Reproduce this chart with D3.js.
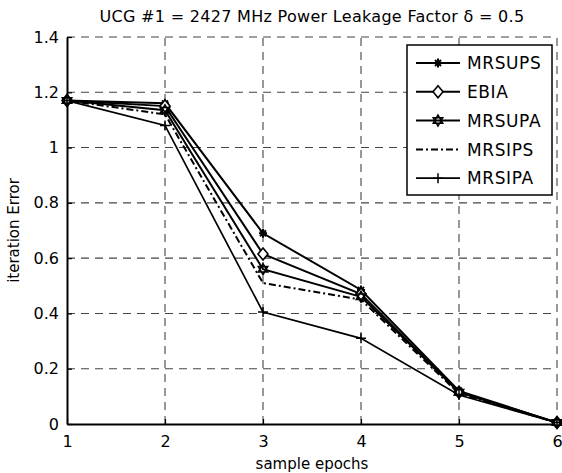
<!DOCTYPE html>
<html>
<head>
<meta charset="utf-8">
<script src="https://cdn.jsdelivr.net/npm/d3@7"></script>
<style>
  body { margin: 0; background: #fff; }
  text { font-family: "Comic Sans MS", "DejaVu Sans", sans-serif; fill: #000; }
</style>
</head>
<body>
<svg id="chart"></svg>
<script>
/* data */
const epochs = [1, 2, 3, 4, 5, 6]
const mrsups = [1.17, 1.16, 0.69, 0.485, 0.12, 0.005]
const ebia   = [1.17, 1.15, 0.615, 0.47, 0.115, 0.005]
const mrsupa = [1.17, 1.135, 0.56, 0.46, 0.115, 0.005]
const mrsips = [1.17, 1.12, 0.51, 0.45, 0.11, 0.005]
const mrsipa = [1.17, 1.08, 0.405, 0.31, 0.105, 0.005]

const seriesNames = ['MRSUPS', 'EBIA', 'MRSUPA', 'MRSIPS', 'MRSIPA']
const seriesValues = [mrsups, ebia, mrsupa, mrsips, mrsipa]
const markers = ['asterisk', 'diamond', 'hexagram', 'none', 'plus']
const dashes = [null, null, null, '7,3,2,3', null]

const xTicks = [1, 2, 3, 4, 5, 6]
const yTicks = [0, 0.2, 0.4, 0.6, 0.8, 1, 1.2, 1.4]
const yTickLabels = ['0', '0.2', '0.4', '0.6', '0.8', '1', '1.2', '1.4']

const titleText = 'UCG #1 = 2427 MHz Power Leakage Factor \u03b4 = 0.5'

const width = 562, height = 473
const margin = {top: 37, right: 5, bottom: 49, left: 67}

const svg = d3.select('#chart').attr('width', width).attr('height', height)

const x = d3.scaleLinear().domain([1, 6]).range([margin.left, width - margin.right])
const y = d3.scaleLinear().domain([0, 1.4]).range([height - margin.bottom, margin.top])

/* grid dashed */
const grid = svg.append('g').attr('stroke', '#444').attr('stroke-width', 1.1).attr('stroke-dasharray', '8,6')
grid.selectAll('.gx').data(xTicks.slice(1)).enter().append('line')
    .attr('x1', d => x(d)).attr('x2', d => x(d))
    .attr('y1', y(0)).attr('y2', y(1.4))
grid.selectAll('.gy').data(yTicks.slice(1)).enter().append('line')
    .attr('x1', x(1)).attr('x2', x(6))
    .attr('y1', d => y(d)).attr('y2', d => y(d))

/* axes left and bottom, ticks inward */
const yAxis = d3.axisLeft(y).tickValues(yTicks).tickSizeInner(-5).tickSizeOuter(0).tickPadding(8)
    .tickFormat((d, i) => yTickLabels[i])
const xAxis = d3.axisBottom(x).tickValues(xTicks).tickSizeInner(-5).tickSizeOuter(0).tickPadding(12)
    .tickFormat(d3.format('d'))

const gy = svg.append('g').attr('transform', `translate(${margin.left},0)`).call(yAxis)
const gx = svg.append('g').attr('transform', `translate(0,${height - margin.bottom})`).call(xAxis)
;[gx, gy].forEach(g => {
  g.select('.domain').attr('stroke', '#000').attr('stroke-width', 2)
  g.selectAll('.tick line').attr('stroke', '#000').attr('stroke-width', 1.2)
  g.selectAll('.tick text').style('font-size', '16px').attr('fill', '#000')
})

/* marker drawing */
const drawMarker = (g, type, cx, cy) => {
  if (type === 'asterisk') {
    g.append('path')
     .attr('d', `M${cx - 4},${cy}L${cx + 4},${cy}M${cx},${cy - 4.5}L${cx},${cy + 4.5}M${cx - 3},${cy - 3}L${cx + 3},${cy + 3}M${cx - 3},${cy + 3}L${cx + 3},${cy - 3}`)
     .attr('stroke', '#000').attr('stroke-width', 2).attr('fill', 'none')
  } else if (type === 'diamond') {
    g.append('path')
     .attr('d', `M${cx},${cy - 6}L${cx + 5},${cy}L${cx},${cy + 6}L${cx - 5},${cy}Z`)
     .attr('stroke', '#000').attr('stroke-width', 1.6).attr('fill', '#fff')
  } else if (type === 'hexagram') {
    const r = 5.5
    const tri = a => d3.range(3).map(k => {
      const t = a + k * 2 * Math.PI / 3
      return [cx + r * Math.sin(t), cy - r * Math.cos(t)]
    })
    const toPath = p => 'M' + p.map(q => q.join(',')).join('L') + 'Z'
    g.append('path')
     .attr('d', toPath(tri(0)) + toPath(tri(Math.PI)))
     .attr('stroke', '#000').attr('stroke-width', 1.5).attr('fill', 'none')
  } else if (type === 'plus') {
    g.append('path')
     .attr('d', `M${cx - 5},${cy}L${cx + 5},${cy}M${cx},${cy - 5}L${cx},${cy + 5}`)
     .attr('stroke', '#000').attr('stroke-width', 1.5).attr('fill', 'none')
  }
}

/* series lines */
const line = d3.line().x((d, i) => x(epochs[i])).y(d => y(d))
const plot = svg.append('g')
seriesValues.forEach((vals, s) => {
  plot.append('path')
      .attr('d', line(vals))
      .attr('fill', 'none')
      .attr('stroke', '#000')
      .attr('stroke-width', s === 4 ? 1.7 : 2)
      .attr('stroke-dasharray', dashes[s])
})
seriesValues.forEach((vals, s) => {
  vals.forEach((v, i) => drawMarker(plot, markers[s], x(epochs[i]), y(v)))
})

/* legend */
const legend = svg.append('g')
legend.append('rect')
      .attr('x', 407).attr('y', 45).attr('width', 145).attr('height', 150)
      .attr('fill', '#fff').attr('stroke', '#000').attr('stroke-width', 1.5)
seriesNames.forEach((name, s) => {
  const ly = 63 + s * 28.8
  legend.append('line')
        .attr('x1', 416).attr('x2', 460).attr('y1', ly).attr('y2', ly)
        .attr('stroke', '#000').attr('stroke-width', s === 4 ? 1.7 : 2)
        .attr('stroke-dasharray', dashes[s])
  drawMarker(legend, markers[s], 438, ly)
  legend.append('text')
        .attr('x', 467).attr('y', ly).attr('dy', '0.36em')
        .style('font-size', '17px').style('letter-spacing', '0.6px')
        .text(name)
})

/* title and labels */
svg.append('text')
   .attr('x', (x(1) + x(6)) / 2).attr('y', 22)
   .attr('text-anchor', 'middle').style('font-size', '16px').style('letter-spacing', '0.3px')
   .text(titleText)
svg.append('text')
   .attr('x', (x(1) + x(6)) / 2).attr('y', 469)
   .attr('text-anchor', 'middle').style('font-size', '15px')
   .text('sample epochs')
svg.append('text')
   .attr('transform', `translate(19,${(y(0) + y(1.4)) / 2}) rotate(-90)`)
   .attr('text-anchor', 'middle').style('font-size', '15px')
   .text('iteration Error')
</script>
</body>
</html>
